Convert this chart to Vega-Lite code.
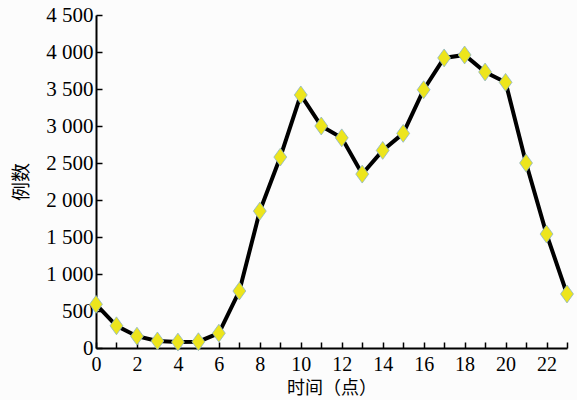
{
  "$schema": "https://vega.github.io/schema/vega-lite/v6.json",
  "width": 471,
  "height": 333,
  "autosize": {"type": "none"},
  "padding": {"left": 96, "top": 15, "right": 10, "bottom": 52},
  "background": "#fcfcfc",
  "config": {"view": {"stroke": null}},
  "data": {"values": [
    {"h": 0, "n": 590}, {"h": 1, "n": 300}, {"h": 2, "n": 160}, {"h": 3, "n": 95},
    {"h": 4, "n": 80}, {"h": 5, "n": 85}, {"h": 6, "n": 200}, {"h": 7, "n": 770},
    {"h": 8, "n": 1850}, {"h": 9, "n": 2580}, {"h": 10, "n": 3420}, {"h": 11, "n": 3000},
    {"h": 12, "n": 2840}, {"h": 13, "n": 2350}, {"h": 14, "n": 2670}, {"h": 15, "n": 2900},
    {"h": 16, "n": 3490}, {"h": 17, "n": 3920}, {"h": 18, "n": 3960}, {"h": 19, "n": 3730},
    {"h": 20, "n": 3590}, {"h": 21, "n": 2500}, {"h": 22, "n": 1540}, {"h": 23, "n": 730}
  ]},
  "encoding": {
    "x": {
      "field": "h", "type": "quantitative",
      "scale": {"domain": [0, 23], "nice": false, "zero": false},
      "axis": {
        "title": "时间（点）",
        "values": [0,1,2,3,4,5,6,7,8,9,10,11,12,13,14,15,16,17,18,19,20,21,22,23],
        "labelExpr": "datum.value % 2 == 0 ? datum.label : ''",
        "grid": false,
        "domainColor": "#000", "domainWidth": 2,
        "tickColor": "#000", "tickWidth": 1.5, "tickSize": -6,
        "labelFont": "Liberation Serif", "labelFontSize": 20, "labelColor": "#000",
        "labelPadding": 12, "labelFlush": false, "labelOverlap": false,
        "titleFont": "Noto Sans CJK SC", "titleFontSize": 18, "titleFontWeight": "normal",
        "titleColor": "#000", "titlePadding": 5
      }
    },
    "y": {
      "field": "n", "type": "quantitative",
      "scale": {"domain": [0, 4500], "nice": false},
      "axis": {
        "title": "例数",
        "values": [0,500,1000,1500,2000,2500,3000,3500,4000,4500],
        "labelExpr": "replace(format(datum.value, ','), ',', ' ')",
        "grid": false,
        "domainColor": "#000", "domainWidth": 2,
        "tickColor": "#000", "tickWidth": 1.5, "tickSize": -6,
        "labelFont": "Liberation Serif", "labelFontSize": 21, "labelColor": "#000",
        "labelPadding": 9, "labelFlush": false, "labelOverlap": false,
        "titleFont": "Noto Sans CJK SC", "titleFontSize": 19, "titleFontWeight": "normal",
        "titleColor": "#000", "titlePadding": 14
      }
    }
  },
  "layer": [
    {"mark": {"type": "line", "color": "#000", "strokeWidth": 4}},
    {"mark": {"type": "point", "shape": "M0,-1L0.72,0L0,1L-0.72,0Z", "filled": true, "fill": "#ede51c", "stroke": "#8ab4c8", "strokeWidth": 0.8, "opacity": 1, "size": 320}}
  ]
}
